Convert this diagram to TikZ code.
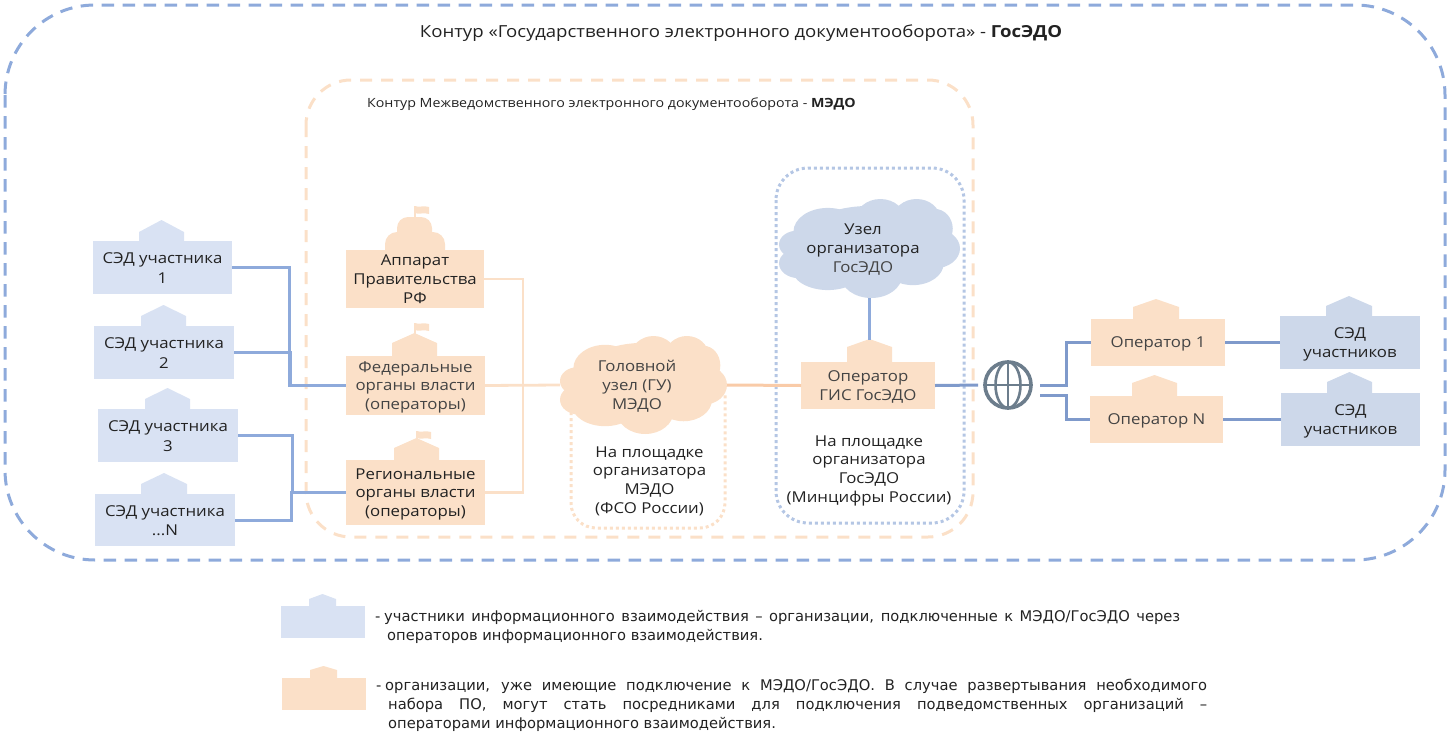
\documentclass[tikz,border=0pt]{standalone}
\usepackage{fontspec}
\setmainfont[FakeStretch=1.12]{Open Sans}
\newfontfamily\legendfont{DejaVu Sans}
\definecolor{boxblue}{HTML}{D9E2F3}
\definecolor{boxblueb}{HTML}{CDD8EA}
\definecolor{boxor}{HTML}{FBE0C8}
\definecolor{lineblue}{HTML}{8EAADB}
\definecolor{linebluec}{HTML}{7F9ACB}
\definecolor{lineor}{HTML}{FBE0C8}
\definecolor{lineorb}{HTML}{F9CBA8}
\definecolor{txt}{HTML}{222222}
\definecolor{txtg}{HTML}{444444}
\definecolor{globeg}{HTML}{6C7D8C}
\newcommand{\bump}[6]{\fill[#1] (#2,#4)--(#2,#5)--({(#2+#3)/2},#6)--(#3,#5)--(#3,#4)--cycle;}
\newcommand{\flag}[3]{\fill[boxor] (#1-0.7,#2) rectangle (#1+0.7,#2+11);
 \fill[boxor] (#1,#3) .. controls (#1+4,#3+2) and (#1+8,#3-1) .. (#1+14,#3+1)--(#1+14,#3+8) .. controls (#1+8,#3+6) and (#1+4,#3+9) .. (#1,#3+7)--cycle;}
\newcommand{\cloudat}[5]{%
 \begin{scope}[shift={(#2,#3)},x=#4pt,y=-#5pt]
 \fill[#1] (0.27,0.33) ellipse[x radius=0.19,y radius=0.24];
 \fill[#1] (0.56,0.22) ellipse[x radius=0.14,y radius=0.22];
 \fill[#1] (0.76,0.20) ellipse[x radius=0.13,y radius=0.20];
 \fill[#1] (0.86,0.30) ellipse[x radius=0.10,y radius=0.20];
 \fill[#1] (0.86,0.50) ellipse[x radius=0.14,y radius=0.20];
 \fill[#1] (0.10,0.46) ellipse[x radius=0.10,y radius=0.14];
 \fill[#1] (0.11,0.65) ellipse[x radius=0.11,y radius=0.15];
 \fill[#1] (0.27,0.70) ellipse[x radius=0.20,y radius=0.22];
 \fill[#1] (0.51,0.77) ellipse[x radius=0.17,y radius=0.23];
 \fill[#1] (0.74,0.65) ellipse[x radius=0.17,y radius=0.22];
 \fill[#1] (0.50,0.45) ellipse[x radius=0.40,y radius=0.38];
 \end{scope}}
\tikzset{
 x=1pt,y=-1pt,
 bl/.style={font=\fontsize{15}{18.8}\selectfont,text=txt,align=center,inner sep=0pt,outer sep=0pt,text depth=0pt},
 box/.style={bl,fill=#1},
 sized/.style n args={2}{minimum width=#1 pt,minimum height=#2 pt},
 conn/.style={line width=3pt,color=lineblue},
 connb/.style={line width=3pt,color=linebluec},
 orconn/.style={line width=2.8pt,color=lineor},
 legtxt/.style={font=\legendfont\fontsize{14.7}{19}\selectfont,text=txt,anchor=base west,inner sep=0pt},
}
\begin{document}
\begin{tikzpicture}
\useasboundingbox (0,0) rectangle (1449,739);
% contours
\draw[lineblue,line width=3pt,dash pattern=on 12.5pt off 8.5pt,rounded corners=90pt] (5,5) rectangle (1445,560);
\draw[lineor,line width=3pt,dash pattern=on 12pt off 9pt,rounded corners=45pt] (306,80) rectangle (973,537);
\draw[boxblueb!60!lineblue,line width=3pt,dash pattern=on 3pt off 3pt,rounded corners=32pt] (776,168) rectangle (964,523);
\draw[lineor,line width=3pt,dash pattern=on 3pt off 3pt,rounded corners=25pt] (571,400) -- (571,528) -- (725,528) -- (725,395);
\node[font=\fontsize{16.6}{20}\selectfont,text=txt,inner sep=0pt] (title) at (741,33) {Контур «Государственного электронного документооборота» - \textbf{ГосЭДО}};
\node[font=\fontsize{12.7}{16}\selectfont,text=txt,inner sep=0pt] (subtitle) at (611.5,104) {Контур Межведомственного электронного документооборота - \textbf{МЭДО}};
% buildings
\bump{boxblue}{139}{184}{241}{232}{220}
\bump{boxblue}{141}{186}{326}{316}{305}
\bump{boxblue}{145}{190}{409}{399}{388}
\bump{boxblue}{141}{187}{494}{484}{473}
\flag{415}{206}{206}
\fill[boxor,rounded corners=11pt] (397,245) -- (397,217) -- (432,217) -- (432,245) -- cycle;
\fill[boxor,rounded corners=12pt] (385,270) -- (385,232) -- (445,232) -- (445,270) -- cycle;
\bump{boxor}{392}{437}{356}{343}{333}
\flag{415}{323}{323}
\bump{boxor}{394}{439}{460}{448}{438}
\flag{417}{431}{431}
\bump{boxor}{847}{892}{362}{347}{339}
\bump{boxor}{1133}{1179}{319}{307}{299}
\bump{boxor}{1132}{1177}{396}{383}{375}
\bump{boxblueb}{1326}{1372}{316}{306}{296}
\bump{boxblueb}{1327}{1372}{393}{382}{372}
% boxes
\node[box=boxblue,sized={139}{53}] (s1) at (162.5,267.5) {\raisebox{-1pt}{\shortstack{СЭД участника\\[2pt]1}}};
\node[box=boxblue,sized={140}{53}] (s2) at (164,352.5) {\raisebox{-1pt}{\shortstack{СЭД участника\\[2pt]2}}};
\node[box=boxblue,sized={140}{53}] (s3) at (168,435.5) {\raisebox{-1pt}{\shortstack{СЭД участника\\[2pt]3}}};
\node[box=boxblue,sized={140}{52}] (s4) at (165,520) {\raisebox{-1pt}{\shortstack{СЭД участника\\[2pt]...N}}};
\node[box=boxor,sized={138}{58}] (apr) at (415,279) {Аппарат\\Правительства\\РФ};
\node[box=boxor,sized={139}{59},text=txtg] (fed) at (415.5,385.5) {Федеральные\\органы власти\\(операторы)};
\node[box=boxor,sized={139}{65}] (reg) at (415.5,492.5) {Региональные\\органы власти\\(операторы)};
\node[box=boxor,sized={134}{47},text=txtg] (gis) at (868,385.5) {Оператор\\ГИС ГосЭДО};
\node[box=boxor,sized={134}{47},text=txtg] (op1) at (1158,342.5) {Оператор 1};
\node[box=boxor,sized={133}{47},text=txtg] (opn) at (1156.5,419.5) {Оператор N};
\node[box=boxblueb,sized={140}{53}] (sa) at (1350,342.5) {СЭД\\участников};
\node[box=boxblueb,sized={139}{53}] (sb) at (1350.5,419.5) {СЭД\\участников};
% clouds
\cloudat{boxor}{560}{336}{167}{98}
\cloudat{boxblueb}{779}{199}{181}{99}
\node[bl,minimum width=167pt,minimum height=98pt] (gu) at (643.5,385) {};
\node[bl,text=txtg] (gutext) at (637,385) {Головной\\узел (ГУ)\\МЭДО};
\node[bl,minimum width=181pt,minimum height=99pt] (uz) at (869.5,248.5) {};
\node[bl] (uztext) at (863,248) {Узел\\организатора\\{\color{txtg}ГосЭДО}};
\node[bl] (pl1) at (649.5,480) {На площадке\\организатора\\МЭДО\\(ФСО России)};
\node[bl] (pl2) at (869,469) {На площадке\\организатора\\ГосЭДО\\(Минцифры России)};
% globe
\node[circle,draw=globeg,line width=3.6pt,minimum size=46pt,inner sep=0pt] (globe) at (1008,385) {};
\draw[globeg,line width=2.6pt] (globe.north)--(globe.south) (globe.west)--(globe.east);
\draw[globeg,line width=2.6pt] (globe.center) ellipse[x radius=12.5,y radius=23];
% connectors
\coordinate (h1) at (289,385);
\coordinate (h1b) at (290,385.7);
\coordinate (h2) at (292,492);
\coordinate (h2b) at (291,492.7);
\coordinate (h3) at (523,385);
\coordinate (g1) at (1040,385);
\coordinate (g2) at (1040,395);
\coordinate (h4) at (1066,385);
\coordinate (h5) at (1066,395);
\coordinate (gispeak) at (869.5,340);
\draw[conn] (s1.east) -| (h1) -- (fed.west|-h1);
\draw[conn] (s2.east) -| (h1b) -- (fed.west|-h1b);
\draw[conn] (s3.east) -| (h2) -- (reg.west|-h2);
\draw[conn] (s4.east) -| (h2b) -- (reg.west|-h2b);
\draw[orconn] (apr.east) -| (h3);
\draw[orconn] (reg.east) -| (h3);
\draw[orconn] (fed.east) -- (gu.west);
\draw[lineorb,line width=3pt] (gu.east) -- (gis.west);
\draw[conn] (uz.south) -- (gispeak);
\draw[connb,shorten >=5pt] (gis.east) -- (globe.west);
\draw[connb] (g1) -- (h4) |- (op1.west);
\draw[connb] (g2) -- (h5) |- (opn.west);
\draw[connb] (op1.east) -- (sa.west);
\draw[connb] (opn.east) -- (sb.west);
% legend
\bump{boxblue}{309}{336}{606}{599}{594}
\fill[boxblue] (281,606) rectangle (365,638);
\bump{boxor}{310}{337}{678}{670}{666}
\fill[boxor] (282,678) rectangle (366,710);
\node[legtxt] (l1) at (375,621) {-};
\node[legtxt] (l1a) at (384,621) {\makebox[796pt][s]{участники информационного взаимодействия – организации, подключенные к МЭДО/ГосЭДО через}};
\node[legtxt] (l1b) at (387,640) {операторов информационного взаимодействия.};
\node[legtxt] (l2) at (376,690) {-};
\node[legtxt] (l2a) at (385,690) {\makebox[822pt][s]{организации, уже имеющие подключение к МЭДО/ГосЭДО. В случае развертывания необходимого}};
\node[legtxt] (l2b) at (388,709) {\makebox[819pt][s]{набора ПО, могут стать посредниками для подключения подведомственных организаций –}};
\node[legtxt] (l2c) at (388,728) {операторами информационного взаимодействия.};
\end{tikzpicture}
\end{document}
